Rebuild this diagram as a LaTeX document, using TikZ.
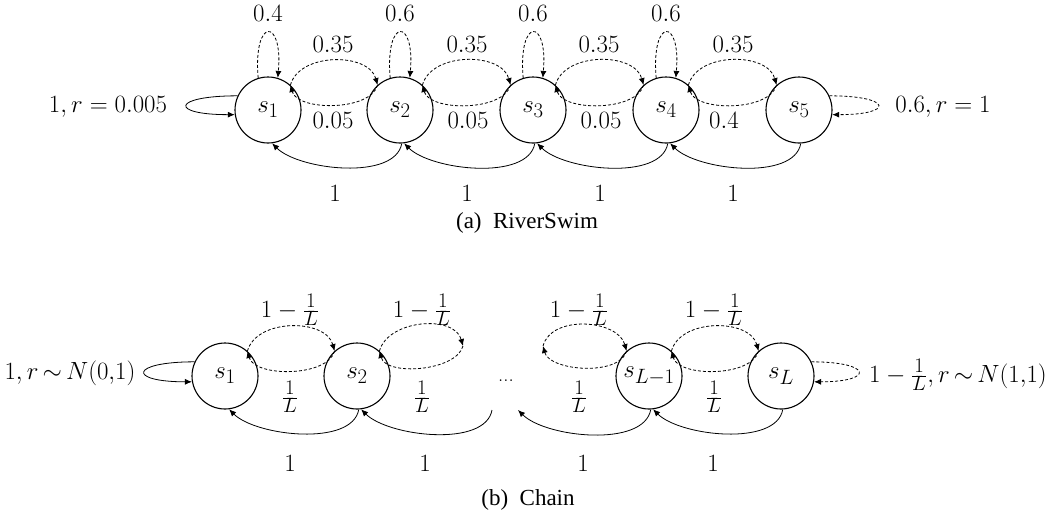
\documentclass[tikz,border=0pt]{standalone}
\usepackage{fontspec}
\newfontfamily\capfont{Liberation Serif}
\usetikzlibrary{arrows.meta}
\begin{document}
\begin{tikzpicture}[x=1pt,y=1pt,
  state/.style={circle,draw,line width=1.1pt,minimum size=66pt,inner sep=0pt,
    font=\fontsize{24.88}{28}\selectfont},
  lab/.style={font=\fontsize{24.88}{28}\selectfont,inner sep=0pt},
  captext/.style={font=\capfont\fontsize{23}{27}\selectfont,inner sep=0pt},
  tip/.style={-{Latex[length=7pt,width=6pt]}},
  edge/.style={tip,line width=0.8pt},
  dedge/.style={tip,line width=0.8pt,dash pattern=on 3pt off 2pt}]
\useasboundingbox (0,0) rectangle (1047,-514);

% ---------------- RiverSwim ----------------
\foreach \i/\x in {1/268,2/400,3/533,4/666,5/799}
  \node[state] (a\i) at (\x,-110) {$s_{\i}$};

% self loops on top
\foreach \i in {1,2,3,4}
  \draw[dedge] (a\i.107) .. controls +(95:61) and +(85:61) .. (a\i.73);
\node[lab] (l0) at (268,-13) {$0.4$};
\node[lab] (l1) at (400,-13) {$0.6$};
\node[lab] (l2) at (533,-13) {$0.6$};
\node[lab] (l3) at (666,-13) {$0.6$};

% moves between neighbours
\foreach \i/\j in {1/2,2/3,3/4,4/5}{
  \draw[dedge] (a\i.48) to[out=75,in=105] (a\j.132);
  \draw[dedge] (a\j.132) to[out=-105,in=-75,looseness=0.8] (a\i.48);
  \draw[edge] (a\j.-87) to[out=-100,in=-45,looseness=0.75] (a\i.-83);
}
\node[lab] (u1) at (333,-44) {$0.35$};
\node[lab] (u2) at (467,-44) {$0.35$};
\node[lab] (u3) at (599,-44) {$0.35$};
\node[lab] (u4) at (733,-44) {$0.35$};
\node[lab] (d1) at (333,-120) {$0.05$};
\node[lab] (d2) at (468,-120) {$0.05$};
\node[lab] (d3) at (601,-120) {$0.05$};
\node[lab] (d4) at (724,-120) {$0.4$};
\node[lab] (o1) at (335,-193) {$1$};
\node[lab] (o2) at (467,-193) {$1$};
\node[lab] (o3) at (600,-193) {$1$};
\node[lab] (o4) at (733,-193) {$1$};

% end loops
\draw[edge] (a1.155) .. controls +(-66,0) and +(-66,0) .. (a1.188);
\node[lab] (ll) at (108,-107) {$1, r=0.005$};
\draw[dedge] (a5.25) .. controls +(63,0) and +(63,0) .. (a5.-8);
\node[lab] (rl) at (943,-107) {$0.6, r=1$};

\node[captext] (capa) at (527,-223) {(a)\ \ RiverSwim};

% ---------------- Chain ----------------
\node[state] (b1) at (225,-376) {$s_1$};
\node[state] (b2) at (357,-376) {$s_2$};
\node[state] (b3) at (649,-376) {$s_{L-1}$};
\node[state] (b4) at (781,-376) {$s_L$};
\coordinate (c1) at (463,-346);
\coordinate (c2) at (543,-346);
\coordinate (e1) at (492,-410);
\coordinate (e2) at (518,-410);

\draw[dedge] (b1.48) to[out=75,in=105] (b2.132);
\draw[dedge] (b2.132) to[out=-105,in=-75,looseness=0.8] (b1.48);
\draw[dedge] (b2.48) to[out=75,in=105] (c1);
\draw[dedge] (c1) to[out=-105,in=-75,looseness=0.8] (b2.48);
\draw[dedge] (c2) to[out=75,in=105] (b3.132);
\draw[dedge] (b3.132) to[out=-105,in=-75,looseness=0.8] (c2);
\draw[dedge] (b3.48) to[out=75,in=105] (b4.132);
\draw[dedge] (b4.132) to[out=-105,in=-75,looseness=0.8] (b3.48);

\draw[edge] (b2.-87) to[out=-100,in=-45,looseness=0.75] (b1.-83);
\draw[edge] (e1) to[out=-100,in=-45,looseness=0.75] (b2.-83);
\draw[edge] (b3.-87) to[out=-100,in=-45,looseness=0.75] (e2);
\draw[edge] (b4.-87) to[out=-100,in=-45,looseness=0.75] (b3.-83);

\node[lab] (dots) at (506,-381) {\fontsize{20.74}{24}\selectfont ...};

\foreach \n/\x in {1/290,2/422,3/579,4/714}{
  \node[lab] (p\n) at (\x,-310) {$1-\frac{1}{L}$};
  \node[lab] (q\n) at (\x,-397) {$\frac{1}{L}$};
}
\foreach \n/\x in {1/290,2/425,3/583,4/713}
  \node[lab] (w\n) at (\x,-463) {$1$};

\draw[edge] (b1.155) .. controls +(-65,0) and +(-65,0) .. (b1.190);
\node[lab] (bl) at (70,-373) {$1, r{\,\sim\,}N(0{,}1)$};
\draw[dedge] (b4.25) .. controls +(61,0) and +(61,0) .. (b4.-10);
\node[lab] (br) at (958,-375) {$1-\frac{1}{L}, r{\,\sim\,}N(1{,}1)$};

\node[captext] (capb) at (528,-500) {(b)\ \ Chain};
\end{tikzpicture}
\end{document}
